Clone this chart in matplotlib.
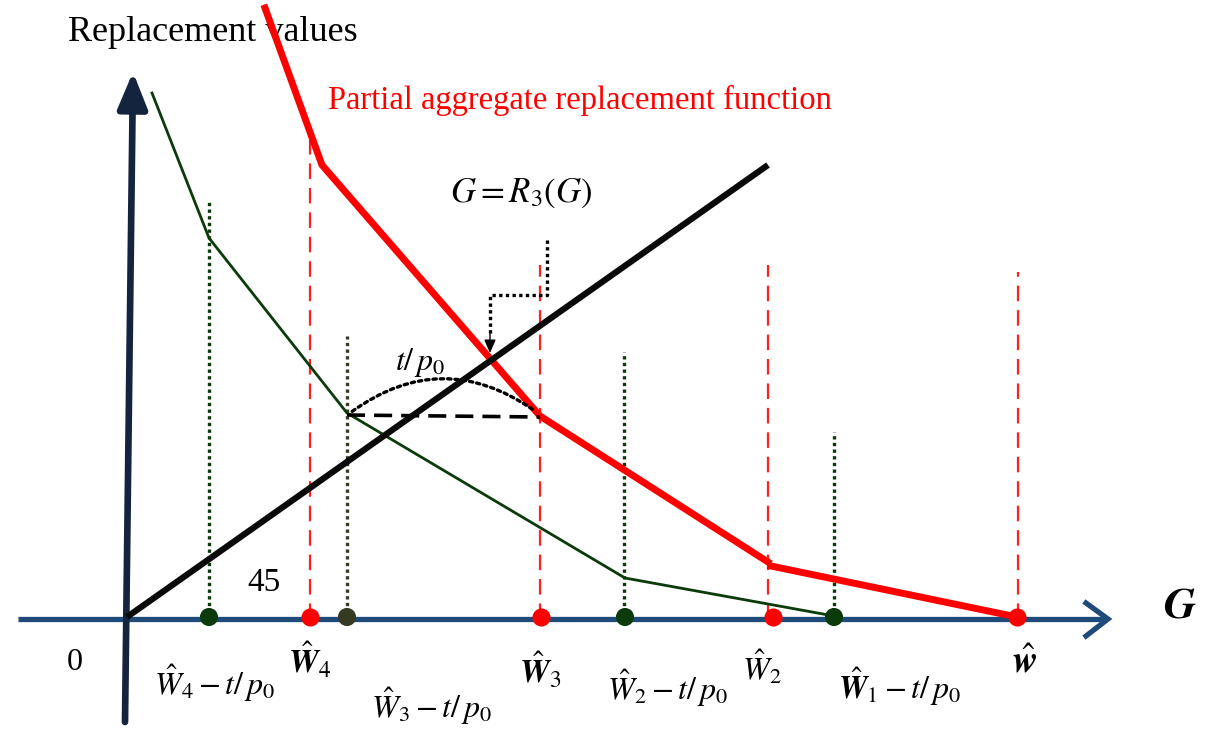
import matplotlib
matplotlib.use("Agg")
import matplotlib.pyplot as plt
from matplotlib.patches import FancyArrowPatch

plt.rcParams['font.family'] = ['Liberation Serif', 'DejaVu Serif']
plt.rcParams['mathtext.fontset'] = 'stix'

# ---- data (picture coordinates, y grows downward) ----
axis_y = 619
green_x = [152, 209, 347, 625, 834]
green_y = [93, 238, 413, 578, 616]
red_upper_x = [265, 322, 540, 768]
red_upper_y = [8, 165, 416, 562]
red_lower_x = [771, 1017]
red_lower_y = [566, 617]
diag_x = [127, 768]
diag_y = [617, 165]
red_vline_x = [310, 540, 768, 1018]
red_vline_top = [140, 265, 265, 272]
green_vline_x = [209, 347, 624, 834]
green_vline_top = [200, 336, 352, 432]
green_vline_col = ['#0b3a0b', '#3a3a26', '#0b3a0b', '#0b3a0b']
red_pts_x = [310, 541, 773, 1017]
green_pts_x = [209, 347, 625, 834]
green_pts_col = ['#0b3a0b', '#353a22', '#0b3a0b', '#0b3a0b']
dash_x = [347, 540]
dash_y = [415, 417]

fig = plt.figure(figsize=(12.13, 7.29), dpi=100)
ax = fig.add_axes([0, 0, 1, 1])
ax.set_xlim(0, 1213)
ax.set_ylim(729, 0)
ax.axis('off')

# horizontal axis
ax.plot([18, 1106], [axis_y, axis_y], color='#1f4b7a', lw=3.8, solid_capstyle='butt', zorder=2)
ax.plot([1086, 1108, 1086], [603, axis_y, 636], color='#1f4b7a', lw=3.8,
        solid_joinstyle='miter', zorder=2)
# vertical axis
ax.annotate('', xy=(133, 72), xytext=(125, 722),
            arrowprops=dict(arrowstyle='-|>,head_length=2.2,head_width=0.9',
                            color='#14243f', lw=4.8, shrinkA=0, shrinkB=0), zorder=3)

# vertical guide lines
for x, top in zip(red_vline_x, red_vline_top):
    ax.plot([x, x], [axis_y, top], color='#ff2020', lw=1.6, ls=(0, (7, 4)), zorder=1)
for x, top, c in zip(green_vline_x, green_vline_top, green_vline_col):
    ax.plot([x, x], [axis_y, top], color=c, lw=2.4, ls=(0, (1, 1)), zorder=1)

# green curve
ax.plot(green_x, green_y, color='#0b3a0b', lw=2.0, zorder=3)
# 45 degree line
ax.plot(diag_x, diag_y, color='#0a0a0a', lw=4.5, solid_capstyle='butt', zorder=5)
# red curve
ax.plot(red_upper_x, red_upper_y, color='#ff0000', lw=5.0, solid_joinstyle='miter', zorder=4)
ax.plot(red_lower_x, red_lower_y, color='#ff0000', lw=5.0, zorder=4)

# dashed horizontal
ax.plot(dash_x, dash_y, color='black', lw=2.6, ls=(0, (5, 2.5)), zorder=4)
# dotted arc
arc = FancyArrowPatch((350, 413), (535, 411), connectionstyle='arc3,rad=-0.36',
                      arrowstyle='-', linestyle=(0, (1, 1.2)), lw=2.4, color='black', zorder=4)
ax.add_patch(arc)
# dotted arrow
ax.plot([547, 547, 490, 490], [240, 295, 295, 336], color='black', lw=2.4,
        ls=(0, (1, 1)), zorder=4)
ax.annotate('', xy=(490, 353), xytext=(490, 333),
            arrowprops=dict(arrowstyle='-|>,head_length=0.8,head_width=0.35',
                            color='black', lw=1, shrinkA=0, shrinkB=0), zorder=6)

# points on axis
ax.scatter(red_pts_x, [617] * len(red_pts_x), s=170, color='#ff0000', zorder=7, linewidths=0)
ax.scatter(green_pts_x, [617] * len(green_pts_x), s=170, color=green_pts_col, zorder=7, linewidths=0)

# texts
ax.text(68, 32, 'Replacement values', fontsize=26, ha='left', va='center', color='black')
ax.text(328, 100, 'Partial aggregate replacement function', fontsize=23.5, ha='left',
        va='center', color='#ff0000')
ax.text(521, 193, r'$G = R_3(G)$', fontsize=25, ha='center', va='center')
ax.text(420, 362, r'$t/\,p_0$', fontsize=23, ha='center', va='center')
ax.text(264, 583, '45', fontsize=24, ha='center', va='center')
ax.text(75, 663, '0', fontsize=23, ha='center', va='center')
ax.text(1180, 606, r'$\mathbfit{G}$', fontsize=32, ha='center', va='center')

ax.text(215, 683, r'$\hat{W}_4 - t/\,p_0$', fontsize=23, ha='center', va='center')
ax.text(310, 660, r'$\hat{\mathbfit{W}}_4$', fontsize=24, ha='center', va='center')
ax.text(432, 706, r'$\hat{W}_3 - t/\,p_0$', fontsize=23, ha='center', va='center')
ax.text(540, 670, r'$\hat{\mathbfit{W}}_3$', fontsize=24, ha='center', va='center')
ax.text(668, 688, r'$\hat{W}_2 - t/\,p_0$', fontsize=23, ha='center', va='center')
ax.text(762, 667, r'$\hat{W}_2$', fontsize=23, ha='center', va='center')
ax.text(900, 687, r'$\hat{\mathbfit{W}}_1 - t/\,p_0$', fontsize=23, ha='center', va='center')
ax.text(1025, 663, r'$\hat{\mathbfit{w}}$', fontsize=27, ha='center', va='center')

fig.savefig('out.png', dpi=100)
